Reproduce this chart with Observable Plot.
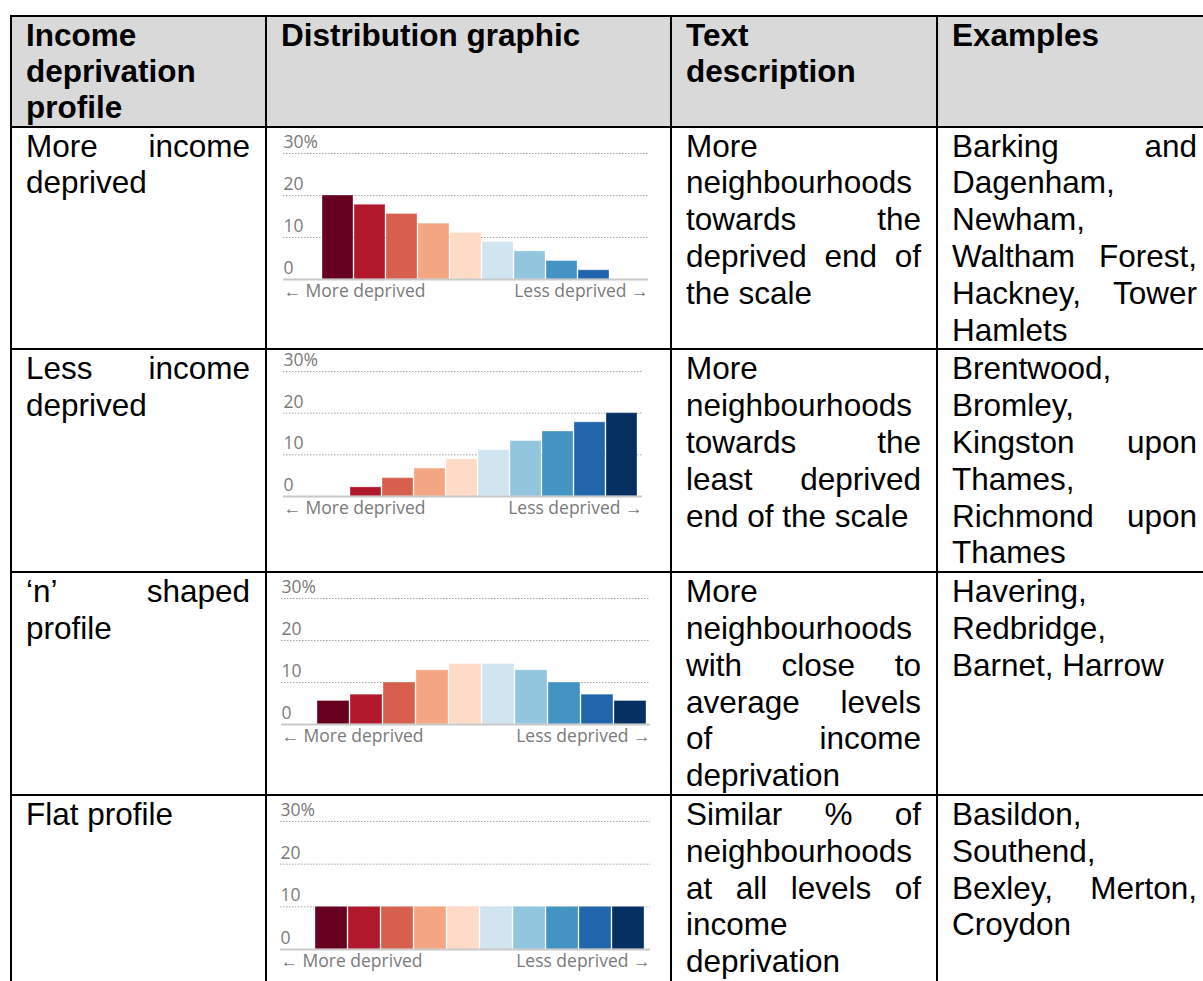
<!DOCTYPE html>
<html>
<head>
<meta charset="utf-8">
<script src="https://cdn.jsdelivr.net/npm/d3@7"></script>
<script src="https://cdn.jsdelivr.net/npm/@observablehq/plot@0.6"></script>
<style>
  html, body { margin: 0; padding: 0; background: #fff; overflow: hidden; width: 1203px; height: 981px; }
  table {
    position: absolute; left: 10px; top: 15px;
    border-collapse: collapse; table-layout: fixed; width: 1204px;
    font-family: "Liberation Sans", Arial, sans-serif; font-size: 31.5px; line-height: 36.8px; color: #000;
  }
  td, th { border: 2px solid #000; vertical-align: top; padding: 0 15px 0 14px; text-align: justify; }
  th { background: #d9d9d9; font-weight: bold; text-align: left; line-height: 36.2px; }
  td.chart { padding: 0; }
  td.chart svg { display: block; }
  tr.last td { height: 215px; }
</style>
</head>
<body>
<table id="tbl">
  <colgroup><col style="width:255px"><col style="width:405px"><col style="width:266px"><col style="width:276px"></colgroup>
  <thead><tr id="head"></tr></thead>
  <tbody id="body"></tbody>
</table>
<script>
// ---- data ----
const headers = ["Income deprivation profile", "Distribution graphic", "Text description", "Examples"];
const profiles = ["More income deprived", "Less income deprived", "\u2018n\u2019 shaped profile", "Flat profile"];
const descriptions = [
  "More neighbourhoods towards the deprived end of the scale",
  "More neighbourhoods towards the least deprived end of the scale",
  "More neighbourhoods with close to average levels of income deprivation",
  "Similar % of neighbourhoods at all levels of income deprivation"
];
const examples = [
  "Barking and Dagenham, Newham, Waltham Forest, Hackney, Tower Hamlets",
  "Brentwood, Bromley, Kingston upon Thames, Richmond upon Thames",
  "Havering, Redbridge, Barnet, Harrow",
  "Basildon, Southend, Bexley, Merton, Croydon"
];
// deprivation deciles, 1 = most deprived
const deciles = ["1", "2", "3", "4", "5", "6", "7", "8", "9", "10"];
const decileColours = ["#67001f", "#b2182b", "#d6604d", "#f4a582", "#fddbc7", "#d1e5f0", "#92c5de", "#4393c3", "#2166ac", "#053061"];
const moreDeprivedShares = [20, 17.8, 15.6, 13.3, 11.1, 8.9, 6.7, 4.4, 2.2, 0];
const lessDeprivedShares = [0, 2.2, 4.4, 6.7, 8.9, 11.1, 13.3, 15.6, 17.8, 20];
const nShapedShares = [5.6, 7.1, 10, 12.9, 14.4, 14.4, 12.9, 10, 7.1, 5.6];
const flatShares = [10, 10, 10, 10, 10, 10, 10, 10, 10, 10];
const yTicks = [0, 10, 20, 30];
const yTickLabels = ["0", "10", "20", "30%"];
const xEndLabels = ["\u2190 More deprived", "Less deprived \u2192"];

// ---- layout (pixel positions inside each graphic) ----
const layouts = [
  {gridStart: 16, barStart: 52, barEnd: 377, gridEnd: 381, top: 25, plotH: 126},
  {gridStart: 16, barStart: 51, barEnd: 371, gridEnd: 375, top: 21, plotH: 125},
  {gridStart: 14, barStart: 50, barEnd: 380, gridEnd: 383, top: 25, plotH: 126},
  {gridStart: 13, barStart: 47, barEnd: 379, gridEnd: 383, top: 25, plotH: 128}
];
const series = [moreDeprivedShares, lessDeprivedShares, nShapedShares, flatShares];

function graphic(values, L) {
  const data = deciles.map((d, i) => ({decile: d, share: values[i]}));
  const width = 395;
  const height = L.top + L.plotH + 32;
  const extL = -(L.barStart - L.gridStart), extR = -(L.gridEnd - L.barEnd);
  const grey = "#7a7a7a";
  const font = {fontFamily: "Open Sans", fontSize: 17.5, fill: grey};
  return Plot.plot({
    width, height,
    marginLeft: L.barStart, marginRight: width - L.barEnd,
    marginTop: L.top, marginBottom: height - L.top - L.plotH,
    x: {domain: deciles, axis: null, paddingInner: 0.03, paddingOuter: 0},
    y: {domain: [0, 30], axis: null},
    color: {domain: deciles, range: decileColours},
    style: {background: "transparent", overflow: "visible"},
    marks: [
      Plot.ruleY(yTicks.filter(d => d > 0), {stroke: "#a6a6a6", strokeWidth: 1, strokeDasharray: "1.5,1.5", insetLeft: extL, insetRight: extR}),
      Plot.barY(data, {x: "decile", y: "share", fill: "decile", stroke: "white", strokeOpacity: 0.35, strokeWidth: 1}),
      Plot.ruleY([0], {stroke: "#c9c9c9", strokeWidth: 2, insetLeft: extL, insetRight: extR}),
      Plot.text(yTicks, {...font, y: d => d, text: (d, i) => yTickLabels[i], frameAnchor: "left", textAnchor: "start", dx: extL, dy: -11}),
      Plot.text([xEndLabels[0]], {...font, text: d => d, frameAnchor: "bottom-left", textAnchor: "start", dx: extL, dy: 17}),
      Plot.text([xEndLabels[1]], {...font, text: d => d, frameAnchor: "bottom-right", textAnchor: "end", dx: -extR, dy: 17})
    ]
  });
}

const head = document.getElementById("head");
headers.forEach(h => { const th = document.createElement("th"); th.textContent = h; head.appendChild(th); });
const body = document.getElementById("body");
profiles.forEach((p, i) => {
  const tr = document.createElement("tr");
  if (i === profiles.length - 1) tr.className = "last";
  const c1 = document.createElement("td"); c1.textContent = p; tr.appendChild(c1);
  const c2 = document.createElement("td"); c2.className = "chart"; c2.appendChild(graphic(series[i], layouts[i])); tr.appendChild(c2);
  const c3 = document.createElement("td"); c3.textContent = descriptions[i]; tr.appendChild(c3);
  const c4 = document.createElement("td"); c4.textContent = examples[i]; tr.appendChild(c4);
  body.appendChild(tr);
});
</script>
</body>
</html>
